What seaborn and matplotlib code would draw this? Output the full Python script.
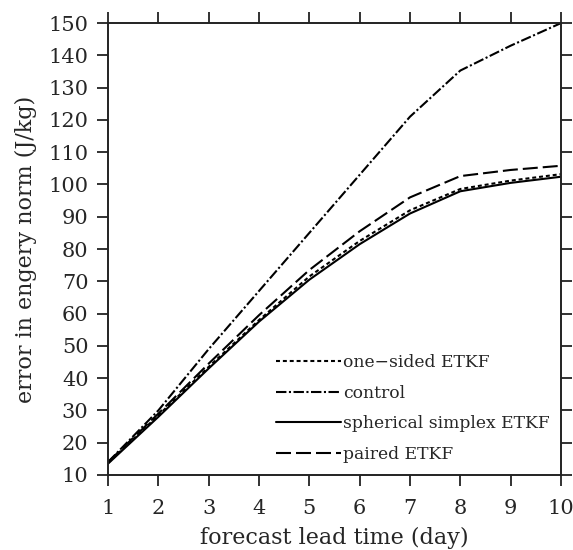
import matplotlib
matplotlib.use('Agg')
import matplotlib.pyplot as plt
import seaborn as sns
import pandas as pd

days = [1, 2, 3, 4, 5, 6, 7, 8, 9, 10]
one_sided = [13.7, 28.5, 43.5, 58.0, 71.5, 82.5, 92.0, 98.6, 101.2, 103.2]
control = [14.0, 30.0, 49.0, 67.0, 85.0, 103.0, 121.0, 135.3, 143.0, 150.0]
spherical = [13.5, 28.0, 43.0, 57.5, 70.5, 81.5, 91.0, 97.9, 100.5, 102.4]
paired = [14.0, 29.0, 44.5, 59.5, 73.5, 85.5, 96.0, 102.6, 104.5, 105.8]

methods = ['one\u2212sided ETKF', 'control', 'spherical simplex ETKF', 'paired ETKF']
series = [one_sided, control, spherical, paired]

rows = []
for name, vals in zip(methods, series):
    for d, v in zip(days, vals):
        rows.append({'day': d, 'error': v, 'method': name})
df = pd.DataFrame(rows)

sns.set_style('ticks')
plt.rcParams['font.family'] = ['DejaVu Serif']

fig = plt.figure(figsize=(5.73, 5.5), dpi=100)
ax = fig.add_axes([0.1885, 0.1364, 0.7905, 0.8216])

dash_map = {
    methods[0]: (1.9, 1.4),
    methods[1]: (5, 1.2, 1, 1.2),
    methods[2]: '',
    methods[3]: (7.2, 2.4),
}
sns.lineplot(data=df, x='day', y='error', style='method', style_order=methods,
             dashes=dash_map, color='black', linewidth=1.5, ax=ax, legend=True)

ax.set_xlim(1, 10)
ax.set_ylim(10, 150)
ax.set_xticks(days)
ax.set_yticks(range(10, 151, 10))
ax.tick_params(axis='both', which='major', direction='out', length=8, width=1.3,
               labelsize=15, top=True, right=True, color='#222222')
ax.tick_params(axis='x', pad=9)
ax.tick_params(axis='y', pad=6)
for s in ax.spines.values():
    s.set_linewidth(1.4)
    s.set_color('#222222')
ax.set_xlabel('forecast lead time (day)', fontsize=16, labelpad=7)
ax.set_ylabel('error in engery norm (J/kg)', fontsize=16, labelpad=8)

handles, labels = ax.get_legend_handles_labels()
ax.legend(handles, labels, loc='lower left', bbox_to_anchor=(0.345, 0.0),
          frameon=False, fontsize=12.3, handlelength=3.8, handletextpad=0.1,
          labelspacing=0.8, borderaxespad=0.3)

fig.savefig('out.png', dpi=100)
